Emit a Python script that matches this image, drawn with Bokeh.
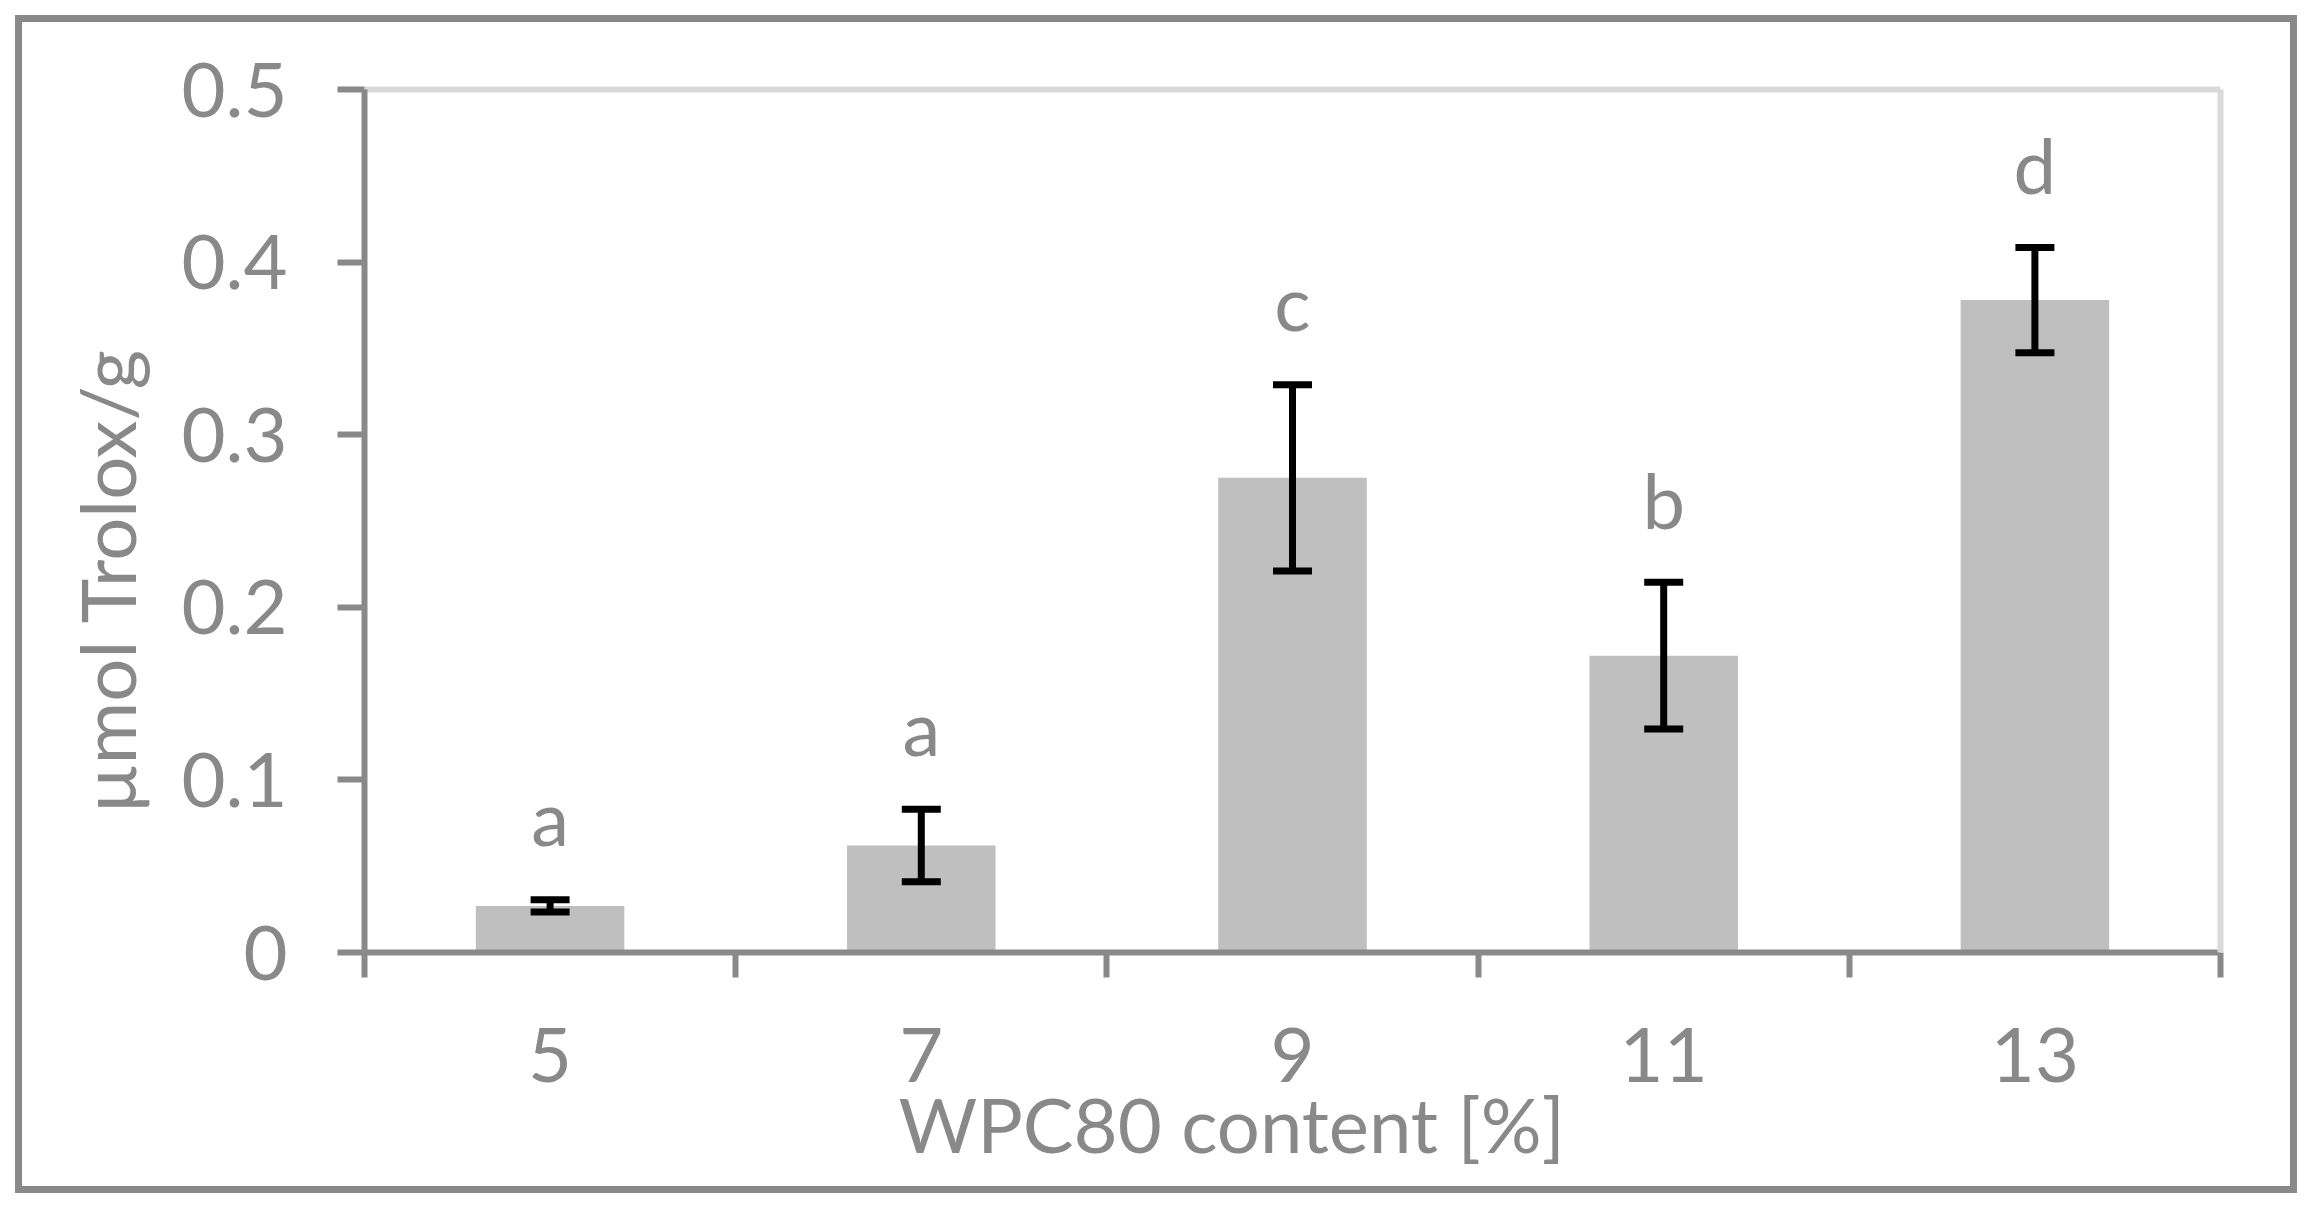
from bokeh.plotting import figure
from bokeh.models import (ColumnDataSource, Range1d, FixedTicker, LinearAxis,
                          Whisker, TeeHead, Title)
from bokeh.core.properties import value
from bokeh.embed import file_html
from bokeh.resources import INLINE

# ---- data ----
categories = ["5", "7", "9", "11", "13"]
means = [0.027, 0.062, 0.275, 0.172, 0.378]
errors = [0.0035, 0.021, 0.054, 0.0425, 0.0305]
letters = ["a", "a", "c", "b", "d"]
y_ticks = [0.0, 0.1, 0.2, 0.3, 0.4, 0.5]
y_tick_labels = ["0", "0.1", "0.2", "0.3", "0.4", "0.5"]
x_title = "WPC80 content [%]"
y_title = "µmol Trolox/g"

GRAY = "#898989"
LIGHT = "#d9d9d9"
BAR = "#bfbfbf"
FONT = "Lato"
FS = "76px"

centers = [i + 0.5 for i in range(len(categories))]
bounds = [float(i) for i in range(len(categories) + 1)]

src = ColumnDataSource(dict(
    x=centers, top=means,
    upper=[m + e for m, e in zip(means, errors)],
    lower=[m - e for m, e in zip(means, errors)],
    letter=letters,
))

W, H = 2312, 1208
p = figure(width=W, height=H, output_backend="svg", toolbar_location=None,
           x_range=Range1d(0, len(categories)), y_range=Range1d(0, 0.5),
           min_border_left=364, min_border_right=W - 2220, min_border_top=89,
           min_border_bottom=H - 952, x_axis_type=None, y_axis_type=None)
p.outline_line_color = None
p.xgrid.visible = False
p.ygrid.visible = False
p.background_fill_color = "white"
p.border_fill_color = None
# outer chart border
p.styles = {"outline": "7px solid #898989", "outline-offset": "-22px"}

# left axis
yax = LinearAxis(ticker=FixedTicker(ticks=y_ticks, minor_ticks=[]))
yax.major_label_overrides = {t: l for t, l in zip(y_ticks, y_tick_labels)}
yax.axis_line_color = GRAY
yax.axis_line_width = 6
yax.major_tick_line_color = GRAY
yax.major_tick_line_width = 6
yax.major_tick_out = 27
yax.major_tick_in = 0
yax.minor_tick_line_color = None
yax.major_label_standoff = 50
yax.major_label_text_font = FONT
yax.major_label_text_font_size = FS
yax.major_label_text_color = GRAY
p.add_layout(yax, "left")

# bottom axis: labels at category centres, tick marks at boundaries
xax = LinearAxis(ticker=FixedTicker(ticks=centers, minor_ticks=bounds))
xax.major_label_overrides = {c: l for c, l in zip(centers, categories)}
xax.axis_line_color = GRAY
xax.axis_line_width = 6
xax.major_tick_line_color = None
xax.major_tick_out = 0
xax.major_tick_in = 0
xax.minor_tick_line_color = GRAY
xax.minor_tick_line_width = 6
xax.minor_tick_out = 25
xax.minor_tick_in = 0
xax.major_label_standoff = 50
xax.major_label_text_font = FONT
xax.major_label_text_font_size = FS
xax.major_label_text_color = GRAY
p.add_layout(xax, "below")

# light plot-area border on top and right
for side in ("above", "right"):
    ax = LinearAxis(ticker=FixedTicker(ticks=[], minor_ticks=[]))
    ax.axis_line_color = LIGHT
    ax.axis_line_width = 6
    ax.major_tick_line_color = None
    ax.minor_tick_line_color = None
    ax.major_label_text_font_size = "0px"
    p.add_layout(ax, side)

# axis titles
xt = Title(text=x_title, align="left", offset=534, vertical_align="top",
           standoff=-13, text_font=FONT, text_font_size=FS,
           text_font_style="normal", text_color=GRAY)
p.add_layout(xt, "below")
yt = Title(text=y_title, align="left", offset=139, vertical_align="bottom",
           standoff=54, text_font=FONT, text_font_size=FS,
           text_font_style="normal", text_color=GRAY)
p.add_layout(yt, "left")

# bars
p.vbar(x="x", top="top", bottom=0, width=0.4, source=src,
       fill_color=BAR, line_color=None)

# error bars
wh = Whisker(source=src, base="x", upper="upper", lower="lower",
             line_color="black", line_width=7, level="annotation",
             upper_head=TeeHead(size=39, line_color="black", line_width=7),
             lower_head=TeeHead(size=39, line_color="black", line_width=7))
p.add_layout(wh)

# significance letters
p.text(x="x", y="upper", text="letter", source=src, y_offset=-83,
       text_align="center", text_baseline="alphabetic",
       text_font=value(FONT), text_font_size=FS, text_color=GRAY)

open("out.html", "w").write(file_html(p, INLINE))
